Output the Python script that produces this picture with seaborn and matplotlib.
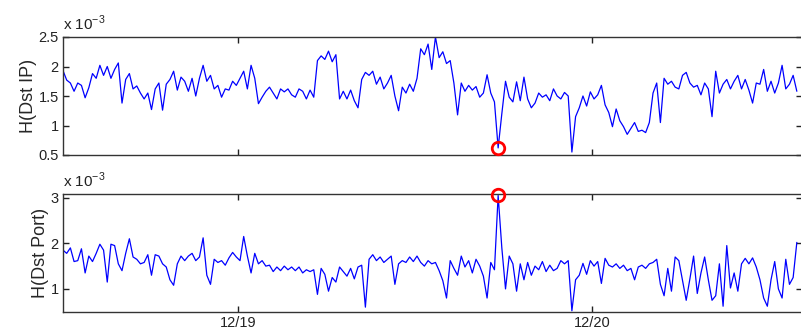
import numpy as np
import pandas as pd
import seaborn as sns
import matplotlib.pyplot as plt
import matplotlib.dates as mdates

sns.set_style("ticks")
plt.rcParams['font.family'] = ['Liberation Sans', 'DejaVu Sans']

# entropy time series (units of 1e-3), 15 minute bins
times = pd.date_range('2008-12-18 12:08', periods=200, freq='15min')

dst_ip = [
    1.93, 1.77, 1.72, 1.58, 1.72, 1.68, 1.47, 1.64, 1.88, 1.80,
    2.02, 1.85, 2.00, 1.80, 1.95, 2.06, 1.38, 1.78, 1.88, 1.62,
    1.67, 1.55, 1.45, 1.55, 1.27, 1.62, 1.72, 1.26, 1.70, 1.78,
    1.92, 1.60, 1.82, 1.75, 1.58, 1.80, 1.50, 1.80, 2.02, 1.75,
    1.85, 1.62, 1.68, 1.48, 1.62, 1.60, 1.75, 1.68, 1.80, 1.92,
    1.62, 2.02, 1.80, 1.37, 1.48, 1.58, 1.65, 1.55, 1.45, 1.62,
    1.57, 1.62, 1.52, 1.48, 1.62, 1.58, 1.45, 1.60, 1.48, 2.10,
    2.18, 2.12, 2.26, 2.08, 2.20, 1.45, 1.58, 1.45, 1.60, 1.42,
    1.30, 1.78, 1.90, 1.85, 1.92, 1.70, 1.82, 1.62, 1.72, 1.85,
    1.50, 1.25, 1.65, 1.55, 1.70, 1.58, 1.80, 2.30, 2.20, 2.38,
    1.95, 2.50, 2.15, 2.25, 2.05, 2.10, 1.72, 1.18, 1.72, 1.58,
    1.68, 1.60, 1.66, 1.48, 1.55, 1.86, 1.55, 1.40, 0.62, 1.20,
    1.75, 1.48, 1.40, 1.74, 1.42, 1.82, 1.45, 1.30, 1.38, 1.55,
    1.48, 1.52, 1.42, 1.62, 1.50, 1.45, 1.56, 1.50, 0.55, 1.15,
    1.30, 1.50, 1.33, 1.57, 1.45, 1.52, 1.68, 1.35, 1.22, 0.98,
    1.28, 1.08, 0.98, 0.85, 0.95, 1.05, 0.90, 0.92, 0.88, 1.05,
    1.55, 1.72, 1.05, 1.80, 1.70, 1.75, 1.65, 1.62, 1.85, 1.90,
    1.72, 1.65, 1.68, 1.52, 1.72, 1.62, 1.15, 1.92, 1.55, 1.70,
    1.78, 1.62, 1.75, 1.85, 1.62, 1.78, 1.60, 1.38, 1.72, 1.70,
    1.95, 1.58, 1.75, 1.55, 1.72, 2.02, 1.62, 1.70, 1.85, 1.58,
]

dst_port = [
    1.85, 1.78, 1.90, 1.60, 1.62, 1.88, 1.35, 1.72, 1.60, 1.78,
    1.98, 1.85, 1.15, 1.98, 1.95, 1.55, 1.40, 1.78, 2.10, 1.70,
    1.65, 1.55, 1.58, 1.75, 1.30, 1.75, 1.72, 1.55, 1.48, 1.20,
    1.08, 1.55, 1.72, 1.62, 1.72, 1.78, 1.62, 1.70, 2.12, 1.30,
    1.10, 1.65, 1.58, 1.62, 1.52, 1.68, 1.80, 1.70, 1.62, 2.15,
    1.72, 1.35, 1.78, 1.55, 1.62, 1.50, 1.52, 1.38, 1.48, 1.40,
    1.50, 1.42, 1.48, 1.40, 1.48, 1.35, 1.42, 1.38, 1.42, 0.88,
    1.45, 1.32, 0.95, 1.25, 1.15, 1.48, 1.38, 1.28, 1.45, 1.22,
    1.48, 1.52, 0.60, 1.65, 1.75, 1.62, 1.70, 1.58, 1.65, 1.72,
    1.10, 1.55, 1.62, 1.58, 1.70, 1.60, 1.72, 1.58, 1.50, 1.62,
    1.55, 1.58, 1.40, 1.18, 0.80, 1.62, 1.45, 1.30, 1.72, 1.48,
    1.62, 1.35, 1.65, 1.50, 1.28, 0.80, 1.58, 1.42, 3.05, 1.90,
    1.00, 1.72, 1.55, 0.95, 1.55, 1.20, 1.58, 1.30, 1.50, 1.42,
    1.60, 1.38, 1.52, 1.40, 1.45, 1.62, 1.55, 1.62, 0.52, 1.20,
    1.30, 1.56, 1.32, 1.62, 1.50, 1.60, 1.12, 1.67, 1.52, 1.48,
    1.55, 1.45, 1.52, 1.40, 1.45, 1.20, 1.48, 1.52, 1.45, 1.55,
    1.58, 1.65, 1.10, 0.85, 1.45, 0.95, 1.70, 1.62, 1.18, 0.75,
    1.22, 1.72, 0.90, 1.35, 1.70, 1.20, 0.75, 0.85, 1.55, 0.62,
    1.95, 1.02, 1.35, 0.95, 1.55, 1.67, 1.55, 1.68, 1.48, 1.20,
    0.80, 0.62, 1.20, 1.60, 1.00, 0.80, 1.65, 1.10, 1.25, 2.02,
]

anomaly = 118  # bin flagged in both panels

fig = plt.figure(figsize=(8.01, 3.35), dpi=100)
ax1 = fig.add_axes([63 / 801, 180 / 335, 739 / 801, 118 / 335])
ax2 = fig.add_axes([63 / 801, 23.3 / 335, 739 / 801, 117.4 / 335])

panels = [(ax1, dst_ip, 'H(Dst IP)', (0.5, 2.5), [0.5, 1, 1.5, 2, 2.5]),
          (ax2, dst_port, 'H(Dst Port)', (0.5, 3.075), [1, 2, 3])]

for ax, vals, label, ylim, yticks in panels:
    sns.lineplot(x=times, y=vals, ax=ax, color='#0000ff', linewidth=0.9)
    ax.plot(times[anomaly], vals[anomaly], 'o', mfc='none', mec='#ff0000',
            ms=9, mew=2, clip_on=False, zorder=5)
    ax.set_xlim(pd.Timestamp('2008-12-18 12:08'), pd.Timestamp('2008-12-20 14:14'))
    ax.set_ylim(*ylim)
    ax.set_yticks(yticks)
    ax.set_yticklabels([f'{t:g}' for t in yticks])
    ax.set_ylabel(label, fontsize=13, labelpad=1)
    ax.xaxis.set_major_locator(mdates.DayLocator())
    ax.xaxis.set_major_formatter(mdates.DateFormatter('%m/%d'))
    ax.tick_params(direction='in', top=True, right=True, length=4,
                   width=1, labelsize=10.5, colors='#222222', pad=3)
    for s in ax.spines.values():
        s.set_color('#333333')
        s.set_linewidth(1)
    ax.text(0.0, 1.035, r'x 10$^{\mathregular{-3}}$', transform=ax.transAxes,
            fontsize=11, ha='left', va='bottom', color='#222222')
    ax.set_xlabel('')

ax1.tick_params(labelbottom=False)

fig.savefig('out.png', dpi=100)
